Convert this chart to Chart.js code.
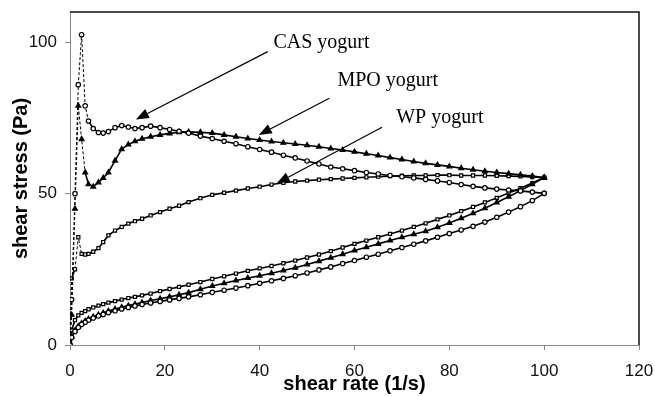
<!DOCTYPE html>
<html>
<head>
<meta charset="utf-8">
<script src="https://cdn.jsdelivr.net/npm/chart.js@4/dist/chart.umd.min.js"></script>
<style>
  html, body { margin: 0; padding: 0; background: #fff; }
  #wrap { width: 655px; height: 396px; }
</style>
</head>
<body>
<div id="wrap"><canvas id="myChart" width="655" height="396"></canvas></div>
<script>
// shear rate (1/s) - same sweep for every sample
const rate = [0, 0.35, 1.05, 1.75, 2.45, 3.2, 3.9, 4.9, 6, 7, 8.1, 9.5, 10.9, 12.3, 13.7, 15.2, 17, 19, 21, 23,
  25, 27.5, 30, 32.5, 35, 37.5, 40, 42.5, 45, 47.5, 50, 52.5, 55, 57.5, 60, 62.5, 65, 67.5, 70, 72.5,
  75, 77.5, 80, 82.5, 85, 87.5, 90, 92.5, 95, 97.5, 100];

// shear stress (Pa), up curve and down curve (down given in same rate order)
const casUp = [0, 15, 50, 86, 102.5, 79, 74, 71.5, 70.2, 70, 70.5, 71.8, 72.5, 72, 71.5, 71.8, 72.3, 71.8, 71.2, 70.6,
  70, 69, 68.2, 67.3, 66.5, 65.5, 64.6, 63.7, 62.7, 61.8, 60.8, 59.8, 58.8, 58.2, 57.6, 57, 56.5, 56, 55.6, 55.2,
  54.7, 54.2, 53.7, 53, 52.4, 51.9, 51.5, 51.2, 50.9, 50.5, 50.1];
const casDown = [0, 2.5, 4.5, 5.8, 6.8, 7.5, 8.2, 8.9, 9.6, 10.1, 10.7, 11.3, 11.9, 12.4, 12.9, 13.4, 13.9, 14.4, 14.9, 15.4,
  15.9, 16.6, 17.4, 18.1, 18.8, 19.6, 20.4, 21.2, 22, 22.9, 23.8, 24.8, 25.8, 26.9, 27.9, 29, 30, 31.1, 32.2, 33.3,
  34.4, 35.6, 36.8, 38, 39.2, 40.6, 42.2, 43.9, 45.7, 47.7, 50.1];

const mpoUp = [0, 10, 45, 79, 68, 57, 53.1, 52.3, 53.7, 55.2, 57, 60.9, 64.7, 66.2, 67.3, 68.1, 68.8, 69.4, 69.9, 70.3,
  70.4, 70.3, 70, 69.4, 68.8, 68.2, 67.7, 67.2, 66.8, 66.4, 66, 65.5, 64.9, 64.4, 63.8, 63.2, 62.6, 61.9, 61.3, 60.6,
  60, 59.5, 59, 58.4, 57.9, 57.4, 57, 56.6, 56.2, 55.8, 55.3];
const mpoDown = [0.5, 2.7, 4.8, 6.2, 7.2, 7.9, 8.6, 9.3, 10, 10.6, 11.2, 11.9, 12.5, 13, 13.5, 14, 14.7, 15.3, 15.9, 16.6,
  17.3, 18.4, 19.5, 20.4, 21.3, 22.1, 22.9, 23.7, 24.6, 25.5, 26.6, 27.7, 28.8, 30, 31.2, 32.3, 33.4, 34.5, 35.6, 36.6,
  37.6, 38.9, 40.3, 41.9, 43.5, 45.2, 47.1, 49, 51, 53.1, 55.3];

const wpUp = [0, 22, 25, 35.6, 30.1, 29.9, 30.1, 30.8, 32, 34, 36.2, 37.8, 39, 40.1, 40.9, 41.7, 42.8, 43.9, 45, 46,
  47.2, 48.5, 49.6, 50.3, 51, 51.7, 52.3, 53, 53.6, 54, 54.3, 54.6, 54.8, 55, 55.2, 55.4, 55.6, 55.8, 55.9, 56,
  56, 56.1, 56.1, 56, 56, 56, 55.9, 55.8, 55.7, 55.5, 55.3];
const wpDown = [1, 4.9, 8.2, 9.8, 10.6, 11.2, 11.8, 12.4, 13, 13.5, 14, 14.5, 15, 15.5, 15.9, 16.4, 17, 17.8, 18.5, 19.2,
  19.9, 20.8, 21.8, 22.7, 23.6, 24.5, 25.3, 26.1, 27, 27.9, 28.9, 29.9, 31, 32.2, 33.4, 34.5, 35.6, 36.7, 37.8, 39,
  40.2, 41.5, 42.8, 44.2, 45.6, 47.1, 48.6, 50.2, 51.8, 53.5, 55.3];

const xTicks = [0, 20, 40, 60, 80, 100, 120];
const yTicks = [0, 50, 100];

// labels with arrows, in data units: [text, textX, textY, fromX, fromY, toX, toY]
const notes = [
  ['CAS yogurt', 42.9, 98.1, 41.7, 96.9, 13.9, 74.5],
  ['MPO yogurt', 56.4, 85.4, 54.7, 81.5, 39.8, 69.4],
  ['WP yogurt', 68.8, 73.3, 65.8, 71.9, 43.6, 53.4]
];

// 올라가는 곡선 + 내려오는 곡선을 하나의 루프로
function loop(up, down) {
  const a = rate.map((x, i) => ({ x: x, y: up[i] }));
  const b = rate.map((x, i) => ({ x: x, y: down[i] })).reverse();
  return a.concat(b);
}

const notePlugin = {
  id: 'notes',
  afterDatasetsDraw(chart) {
    const c = chart.ctx, xs = chart.scales.x, ys = chart.scales.y, area = chart.chartArea;
    c.save();
    // frame top + right
    c.strokeStyle = '#111';
    c.lineWidth = 1.5;
    c.beginPath();
    c.moveTo(area.left, area.top);
    c.lineTo(area.right, area.top);
    c.lineTo(area.right, area.bottom);
    c.stroke();

    c.fillStyle = '#000';
    c.strokeStyle = '#000';
    c.lineWidth = 1.2;
    c.font = '20px "Liberation Serif", "Times New Roman", serif';
    c.textBaseline = 'alphabetic';
    notes.forEach(n => {
      c.fillText(n[0], xs.getPixelForValue(n[1]), ys.getPixelForValue(n[2]));
      const x1 = xs.getPixelForValue(n[3]), y1 = ys.getPixelForValue(n[4]);
      const x2 = xs.getPixelForValue(n[5]), y2 = ys.getPixelForValue(n[6]);
      const ang = Math.atan2(y2 - y1, x2 - x1);
      const len = 13, hw = 5;
      const bx = x2 - len * Math.cos(ang), by = y2 - len * Math.sin(ang);
      c.beginPath();
      c.moveTo(x1, y1);
      c.lineTo(bx, by);
      c.stroke();
      c.beginPath();
      c.moveTo(x2, y2);
      c.lineTo(bx + hw * Math.sin(ang), by - hw * Math.cos(ang));
      c.lineTo(bx - hw * Math.sin(ang), by + hw * Math.cos(ang));
      c.closePath();
      c.fill();
    });
    c.restore();
  }
};

// 긴 구간(시작 부분 급변)은 점선, 나머지는 굵은 실선
function segLen(s) {
  return Math.hypot(s.p1.x - s.p0.x, s.p1.y - s.p0.y);
}

function series(label, data, style, fill) {
  return {
    label: label,
    data: data,
    showLine: true,
    borderColor: '#000',
    borderWidth: 1.6,
    segment: {
      borderDash: s => segLen(s) > 15 ? [3, 2] : undefined,
      borderWidth: s => segLen(s) > 15 ? 1 : 1.6
    },
    pointStyle: style,
    pointRadius: style === 'triangle' ? 2.8 : 2.2,
    pointBorderWidth: 1.2,
    pointBorderColor: '#000',
    pointBackgroundColor: fill,
    tension: 0
  };
}

const ctx = document.getElementById('myChart').getContext('2d');
const myChart = new Chart(ctx, {
  type: 'scatter',
  data: {
    datasets: [
      series('CAS yogurt', loop(casUp, casDown), 'circle', '#fff'),
      series('MPO yogurt', loop(mpoUp, mpoDown), 'triangle', '#000'),
      series('WP yogurt', loop(wpUp, wpDown), 'rect', '#fff')
    ]
  },
  options: {
    responsive: false,
    animation: false,
    layout: { autoPadding: false, padding: { top: 12, right: 16, left: 0, bottom: 0 } },
    plugins: { legend: { display: false }, tooltip: { enabled: false } },
    scales: {
      x: {
        type: 'linear',
        min: 0, max: 120,
        afterFit: s => { s.height = 51; s.paddingLeft = 0; s.paddingRight = 0; },
        afterBuildTicks: s => { s.ticks = xTicks.map(v => ({ value: v })); },
        grid: { drawOnChartArea: false, tickLength: 5, color: '#888' },
        border: { color: '#888', width: 1 },
        ticks: { padding: 11, color: '#111', font: { family: 'Liberation Sans, Arial', size: 17 }, maxRotation: 0 },
        title: {
          display: true, text: 'shear rate (1/s)', color: '#000',
          font: { family: 'Liberation Sans, Arial', size: 20, weight: 'bold' },
          padding: { top: 0, bottom: 0 }
        }
      },
      y: {
        type: 'linear',
        min: 0, max: 110,
        afterFit: s => { s.width = 70; s.paddingTop = 0; s.paddingBottom = 0; },
        afterBuildTicks: s => { s.ticks = yTicks.map(v => ({ value: v })); },
        grid: { drawOnChartArea: false, tickLength: 5, color: '#888' },
        border: { color: '#888', width: 1 },
        ticks: { padding: 8, color: '#111', font: { family: 'Liberation Sans, Arial', size: 17 } },
        title: {
          display: true, text: 'shear stress (Pa)', color: '#000',
          font: { family: 'Liberation Sans, Arial', size: 20, weight: 'bold' },
          padding: { top: 9, bottom: 0 }
        }
      }
    }
  },
  plugins: [notePlugin]
});
</script>
</body>
</html>
